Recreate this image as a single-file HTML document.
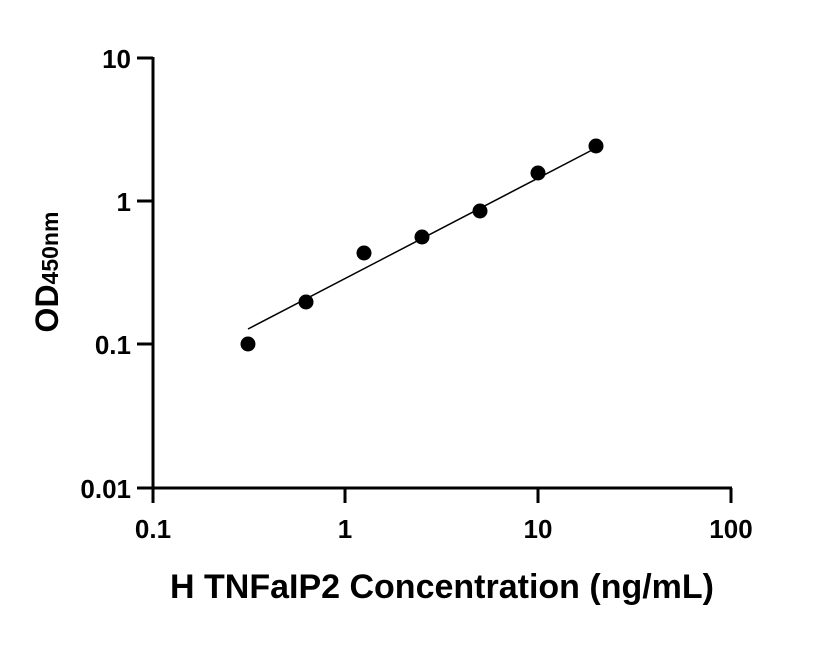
<!DOCTYPE html>
<html><head><style>body{margin:0;background:#fff}</style></head><body>
<svg width="816" height="640" xmlns="http://www.w3.org/2000/svg" font-family="Liberation Sans, sans-serif" font-weight="bold">
<rect width="816" height="640" fill="#fff"/>
<g stroke="#000" stroke-width="3" fill="none">
<line x1="153" y1="57" x2="153" y2="503"/>
<line x1="137" y1="488" x2="732" y2="488"/>
<line x1="137" y1="58" x2="153" y2="58"/>
<line x1="137" y1="201" x2="153" y2="201"/>
<line x1="137" y1="344" x2="153" y2="344"/>
<line x1="345" y1="488" x2="345" y2="503"/>
<line x1="538" y1="488" x2="538" y2="503"/>
<line x1="731" y1="488" x2="731" y2="503"/>
</g>
<line x1="248" y1="329" x2="596" y2="148" stroke="#000" stroke-width="1.5"/>
<g fill="#000">
<circle cx="248" cy="344" r="7.5"/>
<circle cx="306" cy="302" r="7.5"/>
<circle cx="364" cy="253" r="7.5"/>
<circle cx="422" cy="237" r="7.5"/>
<circle cx="480" cy="211" r="7.5"/>
<circle cx="538" cy="173" r="7.5"/>
<circle cx="596" cy="146" r="7.5"/>
</g>
<g font-size="26" text-anchor="end">
<text x="131" y="68">10</text>
<text x="131" y="211">1</text>
<text x="131" y="354">0.1</text>
<text x="131" y="498">0.01</text>
</g>
<g font-size="26" text-anchor="middle">
<text x="153" y="538">0.1</text>
<text x="345" y="538">1</text>
<text x="538" y="538">10</text>
<text x="731" y="538">100</text>
</g>
<text x="442" y="598" font-size="34" text-anchor="middle">H TNFaIP2 Concentration (ng/mL)</text>
<text transform="translate(58,272) rotate(-90)" font-size="32" text-anchor="middle">OD<tspan font-size="23">450nm</tspan></text>
</svg>
</body></html>
